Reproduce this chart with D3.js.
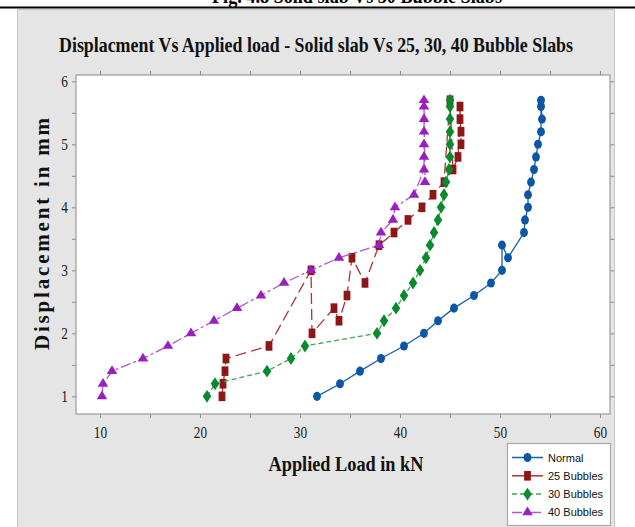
<!DOCTYPE html>
<html>
<head>
<meta charset="utf-8">
<script src="https://cdn.jsdelivr.net/npm/d3@7"></script>
<style>
  body { margin: 0; background: #ffffff; }
  svg { display: block; }
</style>
</head>
<body>
<div id="chart"></div>
<script>
const displacement = [1.0, 1.2, 1.4, 1.6, 1.8, 2.0, 2.2, 2.4, 2.6, 2.8, 3.0, 3.2, 3.4,
    3.6, 3.8, 4.0, 4.2, 4.4, 4.6, 4.8, 5.0, 5.2, 5.4, 5.6, 5.7];
const loadNormal = [31.7, 34.0, 36.0, 38.1, 40.4, 42.4, 43.8, 45.4, 47.4, 49.1, 50.2, 50.8, 50.2,
    52.4, 52.5, 52.8, 52.8, 53.1, 53.4, 53.6, 53.8, 54.1, 54.2, 54.1, 54.1];
const load25 = [22.2, 22.3, 22.5, 22.6, 26.9, 31.2, 33.9, 33.4, 34.7, 36.5, 31.1, 35.2, 37.9,
    39.4, 40.8, 42.2, 43.3, 44.4, 45.3, 45.8, 46.1, 46.1, 46.0, 46.0, 45.0];
const load30 = [20.7, 21.5, 26.7, 29.1, 30.5, 37.7, 38.4, 39.6, 40.4, 41.3, 42.0, 42.6, 43.0,
    43.4, 43.8, 44.1, 44.4, 44.6, 44.9, 45.0, 45.0, 45.0, 45.0, 45.0, 45.0];
const load40 = [10.2, 10.3, 11.2, 14.3, 16.8, 19.1, 21.4, 23.7, 26.1, 28.4, 31.1, 33.9, 37.9,
    38.1, 39.3, 39.5, 41.4, 42.5, 42.4, 42.4, 42.4, 42.4, 42.4, 42.4, 42.4];
const seriesNames = ['Normal', '25 Bubbles', '30 Bubbles', '40 Bubbles'];
const xTicks = [10, 20, 30, 40, 50, 60];
const yTicks = [1, 2, 3, 4, 5, 6];

const width = 635, height = 527;
const plot = { left: 76, right: 610, top: 75, bottom: 414 };

const styles = [
    { line: '#1a5eaa', fill: '#0b57a6', dash: null, symbol: d3.symbolCircle, size: 54, sx: 0.95, sy: 1.1 },
    { line: '#a83434', fill: '#8e1616', dash: '11,5', symbol: d3.symbolSquare, size: 64, sx: 0.85, sy: 1.2 },
    { line: '#3ea553', fill: '#0a8a2c', dash: '5,3', symbol: d3.symbolDiamond, size: 48, sx: 1.15, sy: 1.0 },
    { line: '#ad58d1', fill: '#9a1fbf', dash: '10,3,3,3', symbol: d3.symbolTriangle, size: 44, sx: 1.05, sy: 1.0 }
];
const loads = [loadNormal, load25, load30, load40];

const x = d3.scaleLinear().domain([7.6, 61]).range([plot.left, plot.right]);
const y = d3.scaleLinear().domain([0.72, 6.1]).range([plot.bottom, plot.top]);

// squeeze text horizontally, the picture has narrow glyphs
function squeeze(sel, k) {
    sel.each(function () {
        const w = this.getComputedTextLength();
        d3.select(this).attr('textLength', w * k).attr('lengthAdjust', 'spacingAndGlyphs');
    });
}

const svg = d3.select('#chart').append('svg')
    .attr('width', width)
    .attr('height', height)
    .attr('viewBox', [0, 0, width, height]);

// caption of the figure, cut by the top of the picture
svg.append('text')
    .attr('x', 357).attr('y', 2.5)
    .attr('text-anchor', 'middle')
    .attr('font-family', 'Liberation Serif')
    .attr('font-weight', 'bold')
    .attr('font-size', 22)
    .attr('textLength', 290).attr('lengthAdjust', 'spacingAndGlyphs')
    .text('Fig. 4.8  Solid slab Vs 30 Bubble Slabs');

svg.append('line')
    .attr('x1', 0).attr('x2', width)
    .attr('y1', 7.5).attr('y2', 7.5)
    .attr('stroke', '#000').attr('stroke-width', 2);

svg.append('rect')
    .attr('x', 17.5).attr('y', 9.5)
    .attr('width', 597).attr('height', 530)
    .attr('fill', '#e5e5e5')
    .attr('stroke', '#c6c6c6');

svg.append('rect')
    .attr('x', plot.left).attr('y', plot.top)
    .attr('width', plot.right - plot.left).attr('height', plot.bottom - plot.top)
    .attr('fill', '#ffffff');

// ticks on all four sides, majors labelled, halves unlabelled
const xMinor = d3.range(10, 61, 5);
const yMinor = d3.range(1, 6.01, 0.5);

const tickStyle = g => {
    g.select('.domain').remove();
    g.selectAll('.tick line').attr('stroke', '#8a8a8a');
};

svg.append('g')
    .attr('transform', `translate(0,${plot.bottom})`)
    .call(d3.axisBottom(x).tickValues(xMinor).tickSize(4).tickFormat(''))
    .call(tickStyle);
svg.append('g')
    .attr('transform', `translate(0,${plot.top})`)
    .call(d3.axisTop(x).tickValues(xMinor).tickSize(4).tickFormat(''))
    .call(tickStyle);
svg.append('g')
    .attr('transform', `translate(${plot.left},0)`)
    .call(d3.axisLeft(y).tickValues(yMinor).tickSize(4).tickFormat(''))
    .call(tickStyle);
svg.append('g')
    .attr('transform', `translate(${plot.right},0)`)
    .call(d3.axisRight(y).tickValues(yMinor).tickSize(4).tickFormat(''))
    .call(tickStyle);

const xAxis = svg.append('g')
    .attr('transform', `translate(0,${plot.bottom})`)
    .call(d3.axisBottom(x).tickValues(xTicks).tickSize(0).tickPadding(12).tickFormat(d3.format('d')))
    .call(g => g.select('.domain').remove());
const yAxis = svg.append('g')
    .attr('transform', `translate(${plot.left},0)`)
    .call(d3.axisLeft(y).tickValues(yTicks).tickSize(0).tickPadding(8).tickFormat(d3.format('d')))
    .call(g => g.select('.domain').remove());

[xAxis, yAxis].forEach(g => {
    g.selectAll('text')
        .attr('font-family', 'Liberation Serif')
        .attr('font-size', 17.5)
        .attr('fill', '#1a1a1a');
    squeeze(g.selectAll('text'), 0.76);
});

svg.append('rect')
    .attr('x', plot.left).attr('y', plot.top)
    .attr('width', plot.right - plot.left).attr('height', plot.bottom - plot.top)
    .attr('fill', 'none')
    .attr('stroke', '#9a9a9a')
    .attr('stroke-width', 1.2);

// series: connected in order of load, like the original
const line = d3.line()
    .x(d => x(d.load))
    .y(d => y(d.disp));

loads.forEach((arr, i) => {
    const st = styles[i];
    const pts = displacement.map((d, j) => ({ disp: d, load: arr[j] }));
    const sorted = d3.sort(pts, d => d.load);
    const g = svg.append('g');

    g.append('path')
        .attr('d', line(sorted))
        .attr('fill', 'none')
        .attr('stroke', st.line)
        .attr('stroke-width', 1.3)
        .attr('stroke-dasharray', st.dash);

    g.selectAll('path.mark')
        .data(pts)
        .join('path')
        .attr('class', 'mark')
        .attr('d', d3.symbol(st.symbol, st.size))
        .attr('transform', d => `translate(${x(d.load)},${y(d.disp)}) scale(${st.sx},${st.sy})`)
        .attr('fill', st.fill);
});

// title and axis titles
svg.append('text')
    .attr('x', 316).attr('y', 52)
    .attr('text-anchor', 'middle')
    .attr('font-family', 'Liberation Serif')
    .attr('font-weight', 'bold')
    .attr('font-size', 22)
    .attr('fill', '#111')
    .attr('textLength', 514).attr('lengthAdjust', 'spacingAndGlyphs')
    .text('Displacment Vs Applied load - Solid slab Vs 25, 30, 40 Bubble Slabs');

svg.append('text')
    .attr('x', 346).attr('y', 471)
    .attr('text-anchor', 'middle')
    .attr('font-family', 'Liberation Serif')
    .attr('font-weight', 'bold')
    .attr('font-size', 21)
    .attr('fill', '#111')
    .attr('textLength', 155).attr('lengthAdjust', 'spacingAndGlyphs')
    .text('Applied Load in kN');

svg.append('text')
    .attr('transform', 'translate(49,234) rotate(-90)')
    .attr('text-anchor', 'middle')
    .attr('font-family', 'Liberation Serif')
    .attr('font-weight', 'bold')
    .attr('font-size', 21)
    .attr('fill', '#111')
    .attr('textLength', 232).attr('lengthAdjust', 'spacing')
    .text('Displacement in mm');

// legend
const legend = svg.append('g');
legend.append('rect')
    .attr('x', 507.5).attr('y', 443.5)
    .attr('width', 103).attr('height', 82)
    .attr('fill', '#ffffff')
    .attr('stroke', '#a8a8a8')
    .attr('stroke-width', 1.2);

const rows = legend.selectAll('g.row')
    .data(seriesNames)
    .join('g')
    .attr('class', 'row')
    .attr('transform', (d, i) => `translate(0,${457.5 + i * 18.3})`);

rows.append('line')
    .attr('x1', 512).attr('x2', 543)
    .attr('stroke', (d, i) => styles[i].line)
    .attr('stroke-width', 1.5)
    .attr('stroke-dasharray', (d, i) => i === 1 ? null : styles[i].dash);

rows.append('path')
    .attr('d', (d, i) => d3.symbol(styles[i].symbol, styles[i].size)())
    .attr('transform', (d, i) => `translate(527.5,0) scale(${styles[i].sx},${styles[i].sy})`)
    .attr('fill', (d, i) => styles[i].fill);

rows.append('text')
    .attr('x', 548).attr('y', 4)
    .attr('font-family', 'Liberation Sans')
    .attr('font-size', 11)
    .attr('fill', '#111')
    .text(d => d);
</script>
</body>
</html>
